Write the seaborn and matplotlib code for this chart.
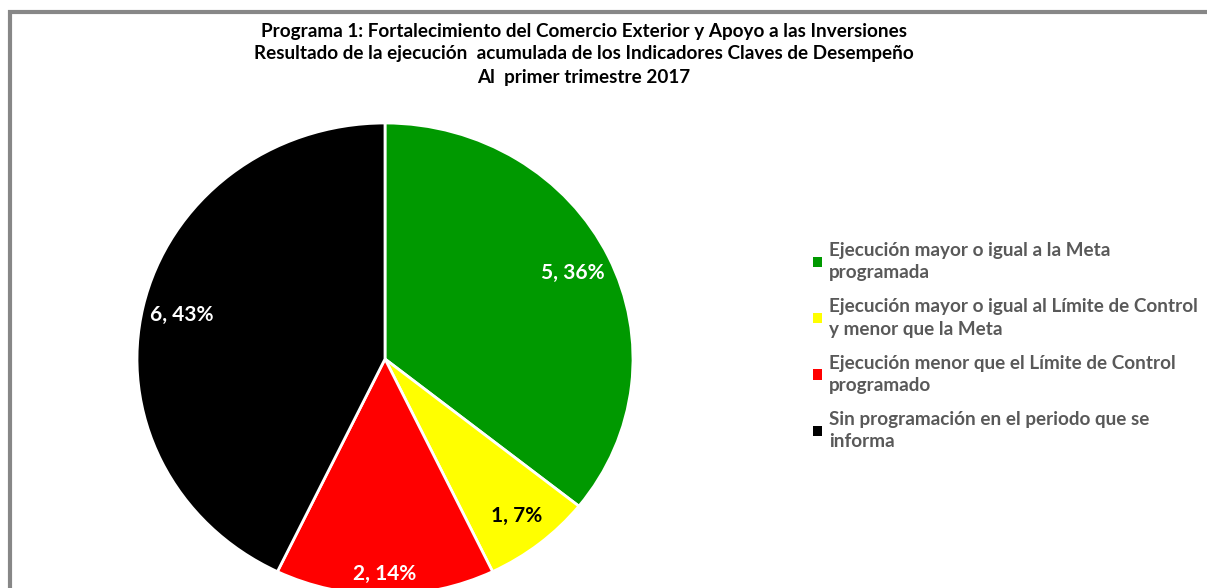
import matplotlib
matplotlib.use("Agg")
import matplotlib.pyplot as plt
from matplotlib.patches import Rectangle, Patch
import seaborn as sns

categories = [
    "Ejecución mayor o igual a la Meta\nprogramada",
    "Ejecución mayor o igual al Límite de Control\ny menor que la Meta",
    "Ejecución menor que el Límite de Control\nprogramado",
    "Sin programación en el periodo que se\ninforma",
]
counts = [5, 1, 2, 6]
colors = ["#009900", "#FFFF00", "#FF0000", "#000000"]
label_colors = ["white", "black", "white", "white"]
label_dist = [0.84, 0.85, 0.91, 0.84]
title_lines = [
    "Programa 1: Fortalecimiento del Comercio Exterior y Apoyo a las Inversiones",
    "Resultado de la ejecución  acumulada de los Indicadores Claves de Desempeño",
    "Al  primer trimestre 2017",
]

sns.set_theme(style="white")
plt.rcParams["font.family"] = ["Lato", "DejaVu Sans"]

W, H = 1207, 588
fig = plt.figure(figsize=(W / 100, H / 100), dpi=100)
fig.patch.set_facecolor("white")

# outer gray border (extends beyond the right/bottom edges)
fig.patches.append(Rectangle((10 / W, -0.05), 1.2, (H - 12) / H + 0.05,
                             transform=fig.transFigure, fill=False,
                             edgecolor="#878787", linewidth=3))

# pie axes: center (385, 359) px, radii 248 x 236 px (slightly stretched)
cx, cy, rx, ry = 385, 359, 248, 236
ax = fig.add_axes([(cx - rx) / W, (H - cy - ry) / H, 2 * rx / W, 2 * ry / H])
total = sum(counts)

def fmt(p):
    n = int(round(p * total / 100.0))
    return f"{n}, {p:.0f}%"

wedges, texts, autotexts = ax.pie(
    counts, colors=colors, startangle=90, counterclock=False,
    autopct=fmt, pctdistance=1.0, radius=1.0,
    wedgeprops=dict(edgecolor="white", linewidth=2),
)
for t, c, d in zip(autotexts, label_colors, label_dist):
    x, y = t.get_position()
    t.set_position((x * d, y * d))
    t.set_color(c)
    t.set_fontsize(15)
    t.set_fontweight("bold")
    t.set_clip_on(False)
for w in wedges:
    w.set_clip_on(False)
ax.set_aspect("auto")
ax.set_xlim(-1, 1)
ax.set_ylim(-1, 1)
ax.axis("off")

# title
for i, line in enumerate(title_lines):
    fig.text(584 / W, 1 - (31 + i * 23) / H, line, ha="center", va="center",
             fontsize=13.6, fontweight="bold", color="black")

# legend
handles = [Patch(facecolor=c, edgecolor="none") for c in colors]
leg = fig.legend(handles, categories, loc="upper left",
                 bbox_to_anchor=(813 / W, 1 - 242 / H), frameon=False,
                 borderpad=0, borderaxespad=0,
                 handlelength=0.45, handleheight=0.45, handletextpad=0.4,
                 labelspacing=0.9, prop=dict(weight="bold", size=13.6))
for t in leg.get_texts():
    t.set_color("#595959")
    t.set_linespacing(1.38)

fig.savefig("out.png", dpi=100, facecolor="white")
